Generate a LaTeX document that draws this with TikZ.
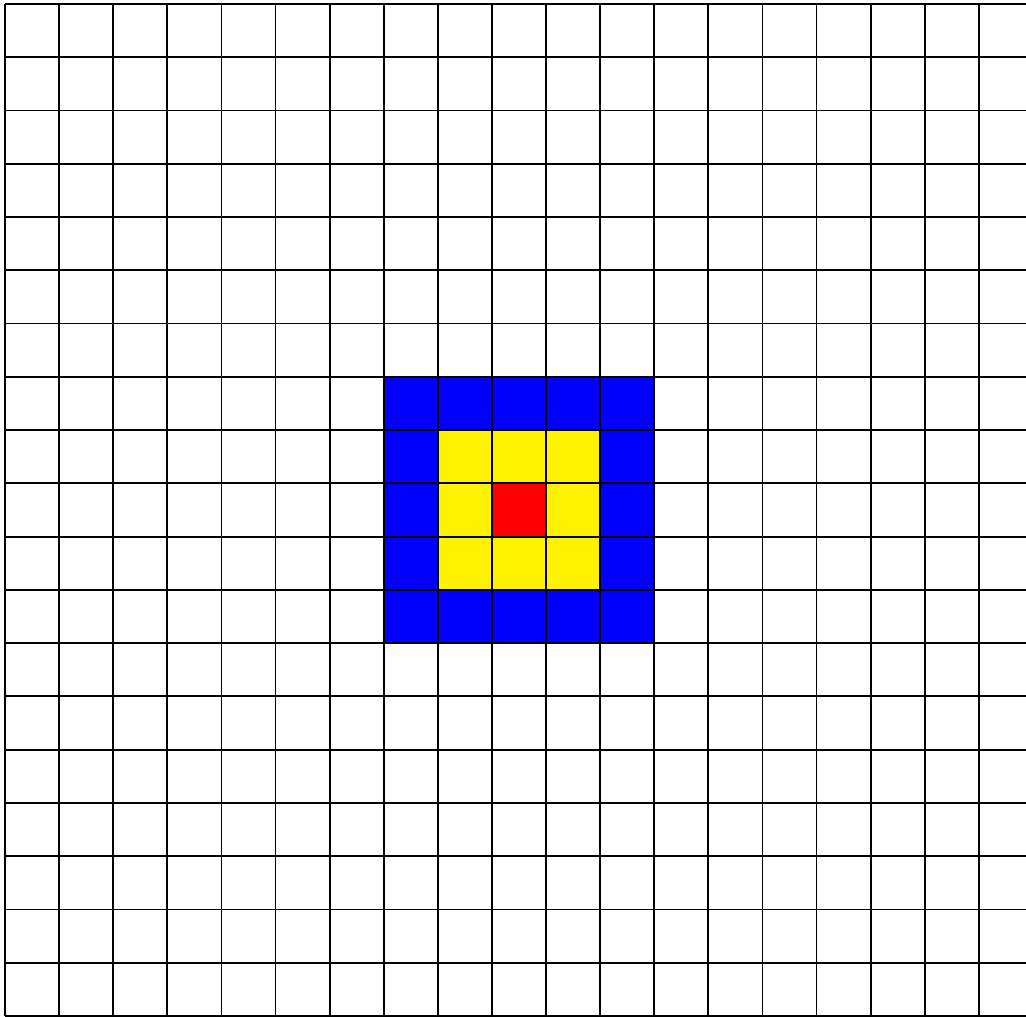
\documentclass[tikz,border=0pt]{standalone}
\begin{document}
\begin{tikzpicture}[gridline/.style={line width=1.8pt,black}]
\useasboundingbox (0,0) rectangle (1026pt,-1017pt);
\fill[white] (0,0) rectangle (1026pt,-1017pt);
\clip (0,0) rectangle (1026pt,-1017pt);
\begin{scope}[shift={(5pt,-4pt)}, x=54.1pt, y=-53.26pt]
  \fill[blue] (7,7) rectangle (12,12);
  \fill[yellow] (8,8) rectangle (11,11);
  \fill[red] (9,9) rectangle (10,10);
  \foreach \i in {0,...,19} {
    \draw[gridline] (\i,0) -- (\i,19);
  }
  \foreach \j in {0,...,19} {
    \draw[gridline] (0,\j) -- (20,\j);
  }
\end{scope}
\end{tikzpicture}
\end{document}
